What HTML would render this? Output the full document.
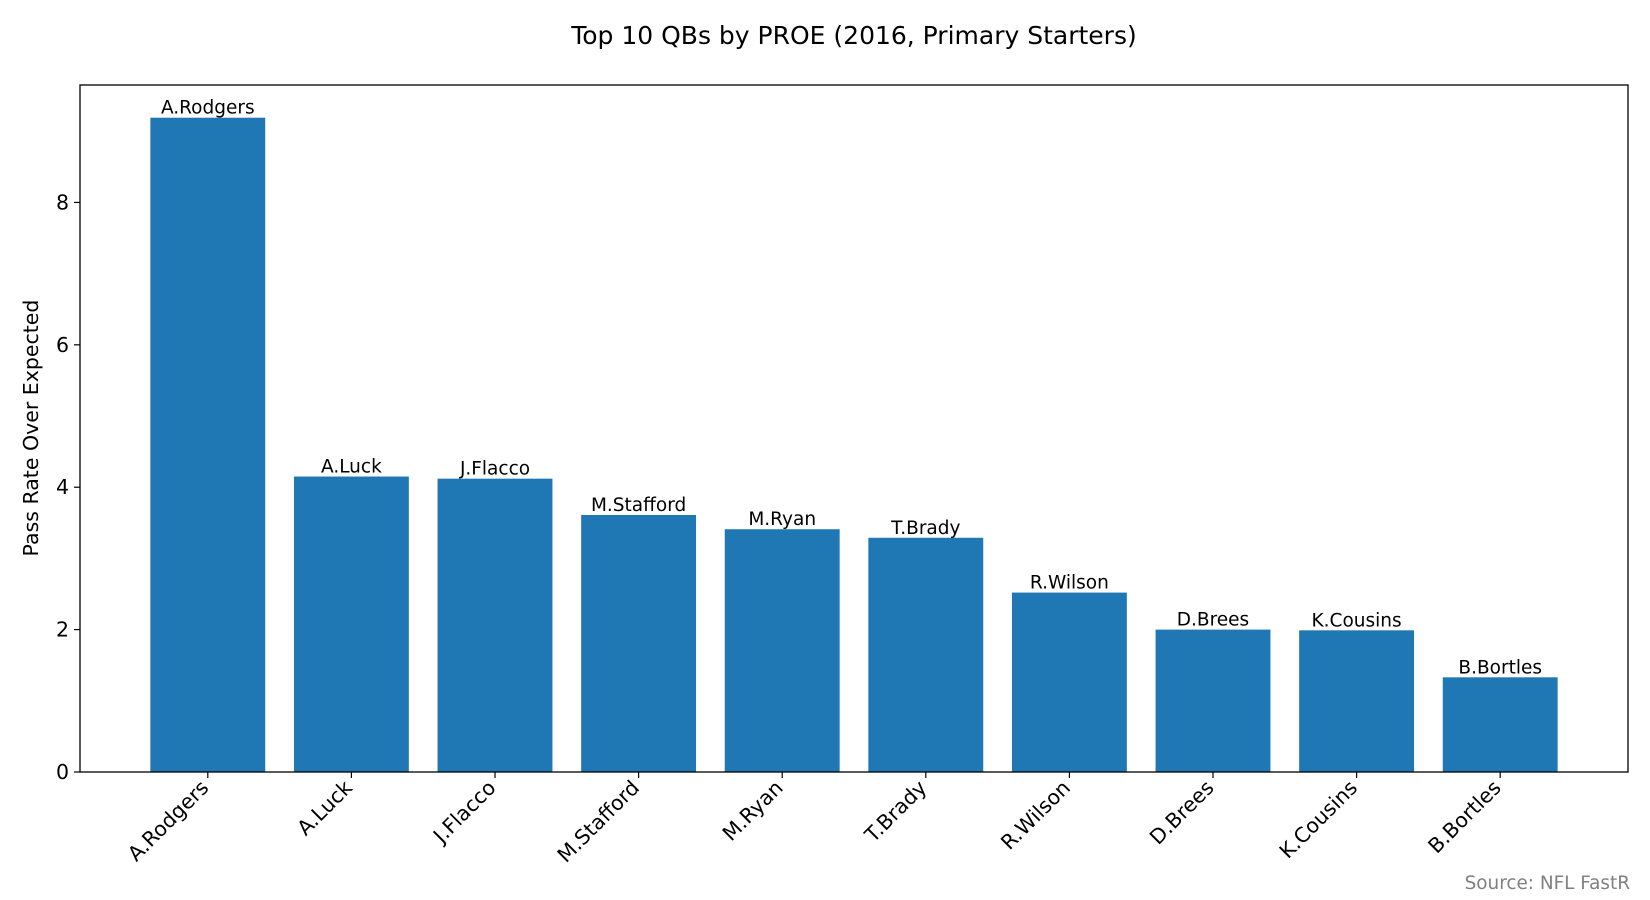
<!DOCTYPE html>
<html><head><meta charset="utf-8"><style>
body{margin:0;background:#fff}
svg{display:block;font-family:"DejaVu Sans","Liberation Sans",sans-serif}
</style></head><body>
<svg id="chart" width="1650" height="900" viewBox="0 0 1650 900" xmlns="http://www.w3.org/2000/svg">
<rect width="1650" height="900" fill="#fff"/>
<text x="854" y="44" text-anchor="middle" font-size="25" fill="#000">Top 10 QBs by PROE (2016, Primary Starters)</text>
<text transform="translate(38,428) rotate(-90)" text-anchor="middle" font-size="20.5" fill="#000">Pass Rate Over Expected</text>
<text x="1630" y="889" text-anchor="end" font-size="18.4" fill="#808080">Source: NFL FastR</text>
<g id="bars"></g>
<g id="axes"></g>
</svg>
<script>
const categories = ["A.Rodgers","A.Luck","J.Flacco","M.Stafford","M.Ryan","T.Brady","R.Wilson","D.Brees","K.Cousins","B.Bortles"];
const values = [9.19,4.15,4.12,3.61,3.41,3.29,2.52,2.0,1.99,1.33];
const yTicks = [0,2,4,6,8];

const L=80,R=1628,T=85,B=772;
const NS="http://www.w3.org/2000/svg";
const n=categories.length;
const xmin=-0.4-0.05*(n-1+0.8), xmax=n-1+0.4+0.05*(n-1+0.8);
const ymax=Math.max(...values)*1.05;
const x=v=>L+(v-xmin)/(xmax-xmin)*(R-L);
const y=v=>B-v/ymax*(B-T);
function mk(tag,attrs,parent){const e=document.createElementNS(NS,tag);for(const k in attrs)e.setAttribute(k,attrs[k]);parent.appendChild(e);return e;}
const bars=document.getElementById('bars'), axes=document.getElementById('axes');
const bw=x(0.8)-x(0);
categories.forEach((c,i)=>{
  const r=mk('rect',{x:x(i)-bw/2,y:y(values[i]),width:bw,height:B-y(values[i]),fill:'#1f77b4'},bars);
  
  
  const t=mk('text',{x:x(i),y:y(values[i])-4,'text-anchor':'middle','font-size':'18.5',fill:'#000'},bars);
  t.textContent=c;
  
  
  const tk=mk('line',{x1:x(i),x2:x(i),y1:B,y2:B+6,stroke:'#000','stroke-width':1.2},axes);
  
  
  const xl=mk('text',{transform:`translate(${x(i)+2},${B+17}) rotate(-45)`,'text-anchor':'end','font-size':'20.5',fill:'#000'},axes);
  xl.textContent=c;
  
  
});
yTicks.forEach(v=>{
  const tk=mk('line',{x1:L-6,x2:L,y1:y(v),y2:y(v),stroke:'#000','stroke-width':1.2},axes);
  
  
  const tl=mk('text',{x:L-11,y:y(v)+7,'text-anchor':'end','font-size':'20.5',fill:'#000'},axes);
  tl.textContent=v;
  
  
});
const fr=mk('rect',{x:L,y:T,width:R-L,height:B-T,fill:'none',stroke:'#000','stroke-width':1.3},axes);


</script>
</body></html>
